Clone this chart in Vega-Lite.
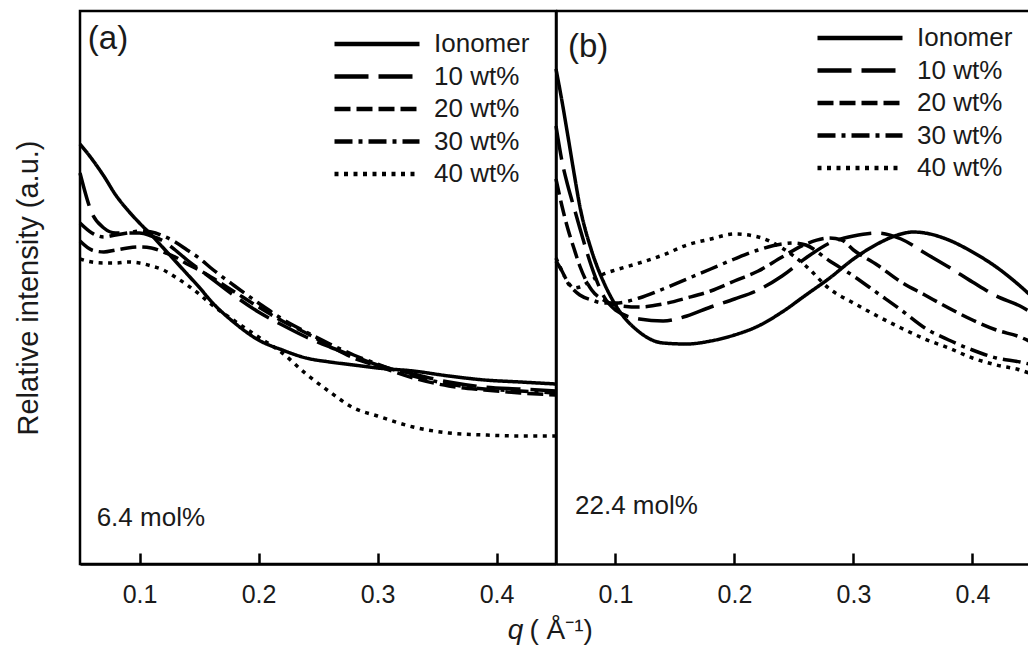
{
  "$schema": "https://vega.github.io/schema/vega-lite/v6.json",
  "background": "white",
  "padding": {"left": 12, "top": 9, "right": 0, "bottom": 0},
  "bounds": "flush",
  "spacing": 0,
  "config": {
    "font": "Liberation Sans",
    "axis": {"grid": false, "domainColor": "black", "tickColor": "black", "labelColor": "#1a1a1a", "titleColor": "#1a1a1a", "titleFontWeight": "normal", "domainWidth": 2.5},
    "text": {"color": "#1a1a1a", "font": "Liberation Sans"}
  },
  "datasets": {
    "curves": [
      {"panel":"a","series":"Ionomer","q":0.05,"intensity":420},{"panel":"a","series":"Ionomer","q":0.06,"intensity":405},{"panel":"a","series":"Ionomer","q":0.07,"intensity":388},{"panel":"a","series":"Ionomer","q":0.08,"intensity":369},{"panel":"a","series":"Ionomer","q":0.09,"intensity":354},{"panel":"a","series":"Ionomer","q":0.10,"intensity":341},{"panel":"a","series":"Ionomer","q":0.11,"intensity":329},{"panel":"a","series":"Ionomer","q":0.12,"intensity":316},{"panel":"a","series":"Ionomer","q":0.13,"intensity":303},{"panel":"a","series":"Ionomer","q":0.14,"intensity":290},{"panel":"a","series":"Ionomer","q":0.15,"intensity":277},{"panel":"a","series":"Ionomer","q":0.16,"intensity":263},{"panel":"a","series":"Ionomer","q":0.18,"intensity":241},{"panel":"a","series":"Ionomer","q":0.20,"intensity":224},{"panel":"a","series":"Ionomer","q":0.22,"intensity":214},{"panel":"a","series":"Ionomer","q":0.24,"intensity":206},{"panel":"a","series":"Ionomer","q":0.26,"intensity":202},{"panel":"a","series":"Ionomer","q":0.28,"intensity":199},{"panel":"a","series":"Ionomer","q":0.30,"intensity":196},{"panel":"a","series":"Ionomer","q":0.33,"intensity":193},{"panel":"a","series":"Ionomer","q":0.36,"intensity":188},{"panel":"a","series":"Ionomer","q":0.39,"intensity":184},{"panel":"a","series":"Ionomer","q":0.42,"intensity":182},{"panel":"a","series":"Ionomer","q":0.45,"intensity":180},
      {"panel":"a","series":"10 wt%","q":0.05,"intensity":391},{"panel":"a","series":"10 wt%","q":0.06,"intensity":351},{"panel":"a","series":"10 wt%","q":0.07,"intensity":336},{"panel":"a","series":"10 wt%","q":0.08,"intensity":331},{"panel":"a","series":"10 wt%","q":0.09,"intensity":331},{"panel":"a","series":"10 wt%","q":0.10,"intensity":331},{"panel":"a","series":"10 wt%","q":0.11,"intensity":328},{"panel":"a","series":"10 wt%","q":0.12,"intensity":323},{"panel":"a","series":"10 wt%","q":0.13,"intensity":314},{"panel":"a","series":"10 wt%","q":0.14,"intensity":304},{"panel":"a","series":"10 wt%","q":0.15,"intensity":295},{"panel":"a","series":"10 wt%","q":0.16,"intensity":286},{"panel":"a","series":"10 wt%","q":0.18,"intensity":268},{"panel":"a","series":"10 wt%","q":0.20,"intensity":252},{"panel":"a","series":"10 wt%","q":0.22,"intensity":239},{"panel":"a","series":"10 wt%","q":0.24,"intensity":227},{"panel":"a","series":"10 wt%","q":0.26,"intensity":217},{"panel":"a","series":"10 wt%","q":0.28,"intensity":208},{"panel":"a","series":"10 wt%","q":0.30,"intensity":199},{"panel":"a","series":"10 wt%","q":0.33,"intensity":190},{"panel":"a","series":"10 wt%","q":0.36,"intensity":182},{"panel":"a","series":"10 wt%","q":0.39,"intensity":177},{"panel":"a","series":"10 wt%","q":0.42,"intensity":175},{"panel":"a","series":"10 wt%","q":0.45,"intensity":173},
      {"panel":"a","series":"20 wt%","q":0.05,"intensity":323},{"panel":"a","series":"20 wt%","q":0.06,"intensity":314},{"panel":"a","series":"20 wt%","q":0.07,"intensity":312},{"panel":"a","series":"20 wt%","q":0.08,"intensity":314},{"panel":"a","series":"20 wt%","q":0.09,"intensity":316},{"panel":"a","series":"20 wt%","q":0.10,"intensity":317},{"panel":"a","series":"20 wt%","q":0.11,"intensity":316},{"panel":"a","series":"20 wt%","q":0.12,"intensity":312},{"panel":"a","series":"20 wt%","q":0.13,"intensity":307},{"panel":"a","series":"20 wt%","q":0.14,"intensity":300},{"panel":"a","series":"20 wt%","q":0.15,"intensity":294},{"panel":"a","series":"20 wt%","q":0.16,"intensity":287},{"panel":"a","series":"20 wt%","q":0.18,"intensity":272},{"panel":"a","series":"20 wt%","q":0.20,"intensity":257},{"panel":"a","series":"20 wt%","q":0.22,"intensity":243},{"panel":"a","series":"20 wt%","q":0.24,"intensity":231},{"panel":"a","series":"20 wt%","q":0.26,"intensity":218},{"panel":"a","series":"20 wt%","q":0.28,"intensity":206},{"panel":"a","series":"20 wt%","q":0.30,"intensity":198},{"panel":"a","series":"20 wt%","q":0.33,"intensity":186},{"panel":"a","series":"20 wt%","q":0.36,"intensity":178},{"panel":"a","series":"20 wt%","q":0.39,"intensity":174},{"panel":"a","series":"20 wt%","q":0.42,"intensity":171},{"panel":"a","series":"20 wt%","q":0.45,"intensity":169},
      {"panel":"a","series":"30 wt%","q":0.05,"intensity":341},{"panel":"a","series":"30 wt%","q":0.06,"intensity":331},{"panel":"a","series":"30 wt%","q":0.07,"intensity":327},{"panel":"a","series":"30 wt%","q":0.08,"intensity":329},{"panel":"a","series":"30 wt%","q":0.09,"intensity":331},{"panel":"a","series":"30 wt%","q":0.10,"intensity":333},{"panel":"a","series":"30 wt%","q":0.11,"intensity":332},{"panel":"a","series":"30 wt%","q":0.12,"intensity":328},{"panel":"a","series":"30 wt%","q":0.13,"intensity":322},{"panel":"a","series":"30 wt%","q":0.14,"intensity":314},{"panel":"a","series":"30 wt%","q":0.15,"intensity":306},{"panel":"a","series":"30 wt%","q":0.16,"intensity":296},{"panel":"a","series":"30 wt%","q":0.18,"intensity":278},{"panel":"a","series":"30 wt%","q":0.20,"intensity":261},{"panel":"a","series":"30 wt%","q":0.22,"intensity":245},{"panel":"a","series":"30 wt%","q":0.24,"intensity":232},{"panel":"a","series":"30 wt%","q":0.26,"intensity":220},{"panel":"a","series":"30 wt%","q":0.28,"intensity":209},{"panel":"a","series":"30 wt%","q":0.30,"intensity":200},{"panel":"a","series":"30 wt%","q":0.33,"intensity":188},{"panel":"a","series":"30 wt%","q":0.36,"intensity":180},{"panel":"a","series":"30 wt%","q":0.39,"intensity":175},{"panel":"a","series":"30 wt%","q":0.42,"intensity":173},{"panel":"a","series":"30 wt%","q":0.45,"intensity":171},
      {"panel":"a","series":"40 wt%","q":0.05,"intensity":305},{"panel":"a","series":"40 wt%","q":0.06,"intensity":302},{"panel":"a","series":"40 wt%","q":0.07,"intensity":301},{"panel":"a","series":"40 wt%","q":0.08,"intensity":301},{"panel":"a","series":"40 wt%","q":0.09,"intensity":302},{"panel":"a","series":"40 wt%","q":0.10,"intensity":301},{"panel":"a","series":"40 wt%","q":0.11,"intensity":298},{"panel":"a","series":"40 wt%","q":0.12,"intensity":294},{"panel":"a","series":"40 wt%","q":0.13,"intensity":287},{"panel":"a","series":"40 wt%","q":0.14,"intensity":279},{"panel":"a","series":"40 wt%","q":0.15,"intensity":270},{"panel":"a","series":"40 wt%","q":0.16,"intensity":260},{"panel":"a","series":"40 wt%","q":0.18,"intensity":243},{"panel":"a","series":"40 wt%","q":0.20,"intensity":227},{"panel":"a","series":"40 wt%","q":0.22,"intensity":211},{"panel":"a","series":"40 wt%","q":0.24,"intensity":190},{"panel":"a","series":"40 wt%","q":0.26,"intensity":172},{"panel":"a","series":"40 wt%","q":0.28,"intensity":156},{"panel":"a","series":"40 wt%","q":0.30,"intensity":148},{"panel":"a","series":"40 wt%","q":0.33,"intensity":137},{"panel":"a","series":"40 wt%","q":0.36,"intensity":131},{"panel":"a","series":"40 wt%","q":0.39,"intensity":129},{"panel":"a","series":"40 wt%","q":0.42,"intensity":128},{"panel":"a","series":"40 wt%","q":0.45,"intensity":128},
      {"panel":"b","series":"Ionomer","q":0.05,"intensity":495},{"panel":"b","series":"Ionomer","q":0.055,"intensity":463},{"panel":"b","series":"Ionomer","q":0.06,"intensity":428},{"panel":"b","series":"Ionomer","q":0.065,"intensity":392},{"panel":"b","series":"Ionomer","q":0.07,"intensity":358},{"panel":"b","series":"Ionomer","q":0.08,"intensity":313},{"panel":"b","series":"Ionomer","q":0.09,"intensity":282},{"panel":"b","series":"Ionomer","q":0.10,"intensity":259},{"panel":"b","series":"Ionomer","q":0.12,"intensity":232},{"panel":"b","series":"Ionomer","q":0.14,"intensity":221},{"panel":"b","series":"Ionomer","q":0.16,"intensity":220},{"panel":"b","series":"Ionomer","q":0.18,"intensity":223},{"panel":"b","series":"Ionomer","q":0.20,"intensity":229},{"panel":"b","series":"Ionomer","q":0.22,"intensity":238},{"panel":"b","series":"Ionomer","q":0.24,"intensity":252},{"panel":"b","series":"Ionomer","q":0.26,"intensity":269},{"panel":"b","series":"Ionomer","q":0.28,"intensity":286},{"panel":"b","series":"Ionomer","q":0.30,"intensity":305},{"panel":"b","series":"Ionomer","q":0.32,"intensity":320},{"panel":"b","series":"Ionomer","q":0.34,"intensity":330},{"panel":"b","series":"Ionomer","q":0.35,"intensity":332},{"panel":"b","series":"Ionomer","q":0.36,"intensity":331},{"panel":"b","series":"Ionomer","q":0.38,"intensity":324},{"panel":"b","series":"Ionomer","q":0.40,"intensity":312},{"panel":"b","series":"Ionomer","q":0.42,"intensity":297},{"panel":"b","series":"Ionomer","q":0.44,"intensity":278},{"panel":"b","series":"Ionomer","q":0.4475,"intensity":270},
      {"panel":"b","series":"10 wt%","q":0.05,"intensity":438},{"panel":"b","series":"10 wt%","q":0.055,"intensity":403},{"panel":"b","series":"10 wt%","q":0.06,"intensity":378},{"panel":"b","series":"10 wt%","q":0.065,"intensity":357},{"panel":"b","series":"10 wt%","q":0.07,"intensity":336},{"panel":"b","series":"10 wt%","q":0.08,"intensity":297},{"panel":"b","series":"10 wt%","q":0.09,"intensity":268},{"panel":"b","series":"10 wt%","q":0.10,"intensity":254},{"panel":"b","series":"10 wt%","q":0.12,"intensity":245},{"panel":"b","series":"10 wt%","q":0.14,"intensity":243},{"panel":"b","series":"10 wt%","q":0.16,"intensity":248},{"panel":"b","series":"10 wt%","q":0.18,"intensity":257},{"panel":"b","series":"10 wt%","q":0.20,"intensity":265},{"panel":"b","series":"10 wt%","q":0.22,"intensity":274},{"panel":"b","series":"10 wt%","q":0.24,"intensity":288},{"panel":"b","series":"10 wt%","q":0.26,"intensity":306},{"panel":"b","series":"10 wt%","q":0.28,"intensity":321},{"panel":"b","series":"10 wt%","q":0.30,"intensity":328},{"panel":"b","series":"10 wt%","q":0.32,"intensity":331},{"panel":"b","series":"10 wt%","q":0.34,"intensity":325},{"panel":"b","series":"10 wt%","q":0.36,"intensity":311},{"panel":"b","series":"10 wt%","q":0.38,"intensity":297},{"panel":"b","series":"10 wt%","q":0.40,"intensity":282},{"panel":"b","series":"10 wt%","q":0.42,"intensity":268},{"panel":"b","series":"10 wt%","q":0.44,"intensity":258},{"panel":"b","series":"10 wt%","q":0.4475,"intensity":253},
      {"panel":"b","series":"20 wt%","q":0.05,"intensity":385},{"panel":"b","series":"20 wt%","q":0.055,"intensity":358},{"panel":"b","series":"20 wt%","q":0.06,"intensity":335},{"panel":"b","series":"20 wt%","q":0.065,"intensity":316},{"panel":"b","series":"20 wt%","q":0.07,"intensity":298},{"panel":"b","series":"20 wt%","q":0.08,"intensity":274},{"panel":"b","series":"20 wt%","q":0.09,"intensity":264},{"panel":"b","series":"20 wt%","q":0.10,"intensity":259},{"panel":"b","series":"20 wt%","q":0.12,"intensity":257},{"panel":"b","series":"20 wt%","q":0.14,"intensity":260},{"panel":"b","series":"20 wt%","q":0.16,"intensity":266},{"panel":"b","series":"20 wt%","q":0.18,"intensity":273},{"panel":"b","series":"20 wt%","q":0.20,"intensity":283},{"panel":"b","series":"20 wt%","q":0.22,"intensity":293},{"panel":"b","series":"20 wt%","q":0.24,"intensity":307},{"panel":"b","series":"20 wt%","q":0.26,"intensity":320},{"panel":"b","series":"20 wt%","q":0.28,"intensity":326},{"panel":"b","series":"20 wt%","q":0.29,"intensity":324},{"panel":"b","series":"20 wt%","q":0.30,"intensity":314},{"panel":"b","series":"20 wt%","q":0.32,"intensity":299},{"panel":"b","series":"20 wt%","q":0.34,"intensity":282},{"panel":"b","series":"20 wt%","q":0.36,"intensity":269},{"panel":"b","series":"20 wt%","q":0.38,"intensity":256},{"panel":"b","series":"20 wt%","q":0.40,"intensity":244},{"panel":"b","series":"20 wt%","q":0.42,"intensity":234},{"panel":"b","series":"20 wt%","q":0.44,"intensity":227},{"panel":"b","series":"20 wt%","q":0.4475,"intensity":223},
      {"panel":"b","series":"30 wt%","q":0.05,"intensity":303},{"panel":"b","series":"30 wt%","q":0.055,"intensity":293},{"panel":"b","series":"30 wt%","q":0.06,"intensity":281},{"panel":"b","series":"30 wt%","q":0.065,"intensity":274},{"panel":"b","series":"30 wt%","q":0.07,"intensity":269},{"panel":"b","series":"30 wt%","q":0.08,"intensity":264},{"panel":"b","series":"30 wt%","q":0.09,"intensity":261},{"panel":"b","series":"30 wt%","q":0.10,"intensity":261},{"panel":"b","series":"30 wt%","q":0.12,"intensity":266},{"panel":"b","series":"30 wt%","q":0.14,"intensity":275},{"panel":"b","series":"30 wt%","q":0.16,"intensity":285},{"panel":"b","series":"30 wt%","q":0.18,"intensity":295},{"panel":"b","series":"30 wt%","q":0.20,"intensity":305},{"panel":"b","series":"30 wt%","q":0.22,"intensity":314},{"panel":"b","series":"30 wt%","q":0.24,"intensity":320},{"panel":"b","series":"30 wt%","q":0.25,"intensity":321},{"panel":"b","series":"30 wt%","q":0.26,"intensity":319},{"panel":"b","series":"30 wt%","q":0.28,"intensity":303},{"panel":"b","series":"30 wt%","q":0.30,"intensity":288},{"panel":"b","series":"30 wt%","q":0.32,"intensity":271},{"panel":"b","series":"30 wt%","q":0.34,"intensity":254},{"panel":"b","series":"30 wt%","q":0.36,"intensity":236},{"panel":"b","series":"30 wt%","q":0.38,"intensity":224},{"panel":"b","series":"30 wt%","q":0.40,"intensity":214},{"panel":"b","series":"30 wt%","q":0.42,"intensity":206},{"panel":"b","series":"30 wt%","q":0.44,"intensity":202},{"panel":"b","series":"30 wt%","q":0.4475,"intensity":200},
      {"panel":"b","series":"40 wt%","q":0.05,"intensity":306},{"panel":"b","series":"40 wt%","q":0.055,"intensity":293},{"panel":"b","series":"40 wt%","q":0.06,"intensity":282},{"panel":"b","series":"40 wt%","q":0.065,"intensity":276},{"panel":"b","series":"40 wt%","q":0.07,"intensity":277},{"panel":"b","series":"40 wt%","q":0.08,"intensity":284},{"panel":"b","series":"40 wt%","q":0.09,"intensity":290},{"panel":"b","series":"40 wt%","q":0.10,"intensity":294},{"panel":"b","series":"40 wt%","q":0.12,"intensity":301},{"panel":"b","series":"40 wt%","q":0.14,"intensity":309},{"panel":"b","series":"40 wt%","q":0.16,"intensity":319},{"panel":"b","series":"40 wt%","q":0.18,"intensity":325},{"panel":"b","series":"40 wt%","q":0.20,"intensity":330},{"panel":"b","series":"40 wt%","q":0.22,"intensity":327},{"panel":"b","series":"40 wt%","q":0.24,"intensity":316},{"panel":"b","series":"40 wt%","q":0.26,"intensity":298},{"panel":"b","series":"40 wt%","q":0.28,"intensity":275},{"panel":"b","series":"40 wt%","q":0.30,"intensity":261},{"panel":"b","series":"40 wt%","q":0.32,"intensity":248},{"panel":"b","series":"40 wt%","q":0.34,"intensity":236},{"panel":"b","series":"40 wt%","q":0.36,"intensity":225},{"panel":"b","series":"40 wt%","q":0.38,"intensity":216},{"panel":"b","series":"40 wt%","q":0.40,"intensity":206},{"panel":"b","series":"40 wt%","q":0.42,"intensity":199},{"panel":"b","series":"40 wt%","q":0.44,"intensity":194},{"panel":"b","series":"40 wt%","q":0.4475,"intensity":191}
    ],
    "notes": [
      {"panel":"a","kind":"tag","text":"(a)","q":0.0566,"intensity":541},
      {"panel":"a","kind":"mol","text":"6.4 mol%","q":0.0640,"intensity":46},
      {"panel":"b","kind":"tag","text":"(b)","q":0.0600,"intensity":533},
      {"panel":"b","kind":"mol","text":"22.4 mol%","q":0.0660,"intensity":58}
    ]
  },
  "resolve": {"scale": {"strokeDash": "independent"}, "legend": {"strokeDash": "independent"}},
  "hconcat": [
    {
      "width": 476,
      "height": 553,
      "view": {"stroke": "black", "strokeWidth": 2.5},
      "layer": [
        {
          "data": {"name": "curves"},
          "transform": [{"filter": "datum.panel === 'a'"}],
          "mark": {"type": "line", "interpolate": "monotone", "color": "black", "strokeWidth": 3.5},
          "encoding": {
            "x": {"field": "q", "type": "quantitative", "scale": {"domain": [0.05, 0.45], "nice": false, "zero": false},
                  "axis": {"values": [0.1, 0.2, 0.3, 0.4], "format": ".1f", "tickSize": -11, "tickWidth": 2.5, "labelFontSize": 25, "labelPadding": 29, "labelFlush": false,
                           "title": "q", "titleFontSize": 28, "titleFontStyle": "italic", "titleX": 435, "titleAlign": "center", "titlePadding": 9}},
            "y": {"field": "intensity", "type": "quantitative", "scale": {"domain": [0, 553], "nice": false},
                  "axis": {"title": "Relative intensity (a.u.)", "titleFontSize": 29, "titlePadding": 37, "domain": false, "ticks": false, "labels": false}},
            "strokeDash": {"field": "series", "type": "nominal",
                           "scale": {"domain": ["Ionomer", "10 wt%", "20 wt%", "30 wt%", "40 wt%"], "range": [[1, 0], [34, 10], [16, 6], [18, 6, 4, 6], [4, 5.5]]},
                           "legend": {"orient": "none", "legendX": 252, "legendY": 20, "title": null, "symbolType": "stroke", "symbolSize": 7225, "symbolStrokeWidth": 4.5, "symbolStrokeColor": "black", "labelFontSize": 26, "labelOffset": 12, "clipHeight": 26, "rowPadding": 6.5, "labelColor": "#1a1a1a", "padding": 0}}
          }
        },
        {
          "data": {"name": "notes"},
          "transform": [{"filter": "datum.panel === 'a' && datum.kind === 'tag'"}],
          "mark": {"type": "text", "align": "left", "baseline": "top", "fontSize": 33},
          "encoding": {"x": {"field": "q", "type": "quantitative"}, "y": {"field": "intensity", "type": "quantitative"}, "text": {"field": "text"}}
        },
        {
          "data": {"name": "notes"},
          "transform": [{"filter": "datum.panel === 'a' && datum.kind === 'mol'"}],
          "mark": {"type": "text", "align": "left", "baseline": "middle", "fontSize": 26},
          "encoding": {"x": {"field": "q", "type": "quantitative"}, "y": {"field": "intensity", "type": "quantitative"}, "text": {"field": "text"}}
        }
      ]
    },
    {
      "width": 473,
      "height": 553,
      "view": {"stroke": null},
      "layer": [
        {
          "data": {"name": "curves"},
          "transform": [{"filter": "datum.panel === 'b'"}],
          "mark": {"type": "line", "interpolate": "monotone", "color": "black", "strokeWidth": 3.5},
          "encoding": {
            "x": {"field": "q", "type": "quantitative", "scale": {"domain": [0.05, 0.4475], "nice": false, "zero": false},
                  "axis": {"values": [0.1, 0.2, 0.3, 0.4], "format": ".1f", "tickSize": -11, "tickWidth": 2.5, "labelFontSize": 25, "labelPadding": 29, "labelFlush": false,
                           "title": "( Å⁻¹)", "titleFontSize": 28, "titleX": -27, "titleAlign": "left", "titlePadding": 9}},
            "y": {"field": "intensity", "type": "quantitative", "scale": {"domain": [0, 553], "nice": false},
                  "axis": {"title": null, "domain": true, "ticks": false, "labels": false}},
            "strokeDash": {"field": "series", "type": "nominal",
                           "scale": {"domain": ["Ionomer", "10 wt%", "20 wt%", "30 wt%", "40 wt%"], "range": [[1, 0], [34, 10], [16, 6], [18, 6, 4, 6], [4, 5.5]]},
                           "legend": {"orient": "none", "legendX": 259, "legendY": 14, "title": null, "symbolType": "stroke", "symbolSize": 7225, "symbolStrokeWidth": 4.5, "symbolStrokeColor": "black", "labelFontSize": 26, "labelOffset": 12, "clipHeight": 26, "rowPadding": 6.5, "labelColor": "#1a1a1a", "padding": 0}}
          }
        },
        {
          "data": {"values": [{}]},
          "mark": {"type": "rule", "color": "black", "strokeWidth": 2.5},
          "encoding": {"y": {"datum": 553}}
        },
        {
          "data": {"name": "notes"},
          "transform": [{"filter": "datum.panel === 'b' && datum.kind === 'tag'"}],
          "mark": {"type": "text", "align": "left", "baseline": "top", "fontSize": 33},
          "encoding": {"x": {"field": "q", "type": "quantitative"}, "y": {"field": "intensity", "type": "quantitative"}, "text": {"field": "text"}}
        },
        {
          "data": {"name": "notes"},
          "transform": [{"filter": "datum.panel === 'b' && datum.kind === 'mol'"}],
          "mark": {"type": "text", "align": "left", "baseline": "middle", "fontSize": 26},
          "encoding": {"x": {"field": "q", "type": "quantitative"}, "y": {"field": "intensity", "type": "quantitative"}, "text": {"field": "text"}}
        }
      ]
    }
  ]
}
